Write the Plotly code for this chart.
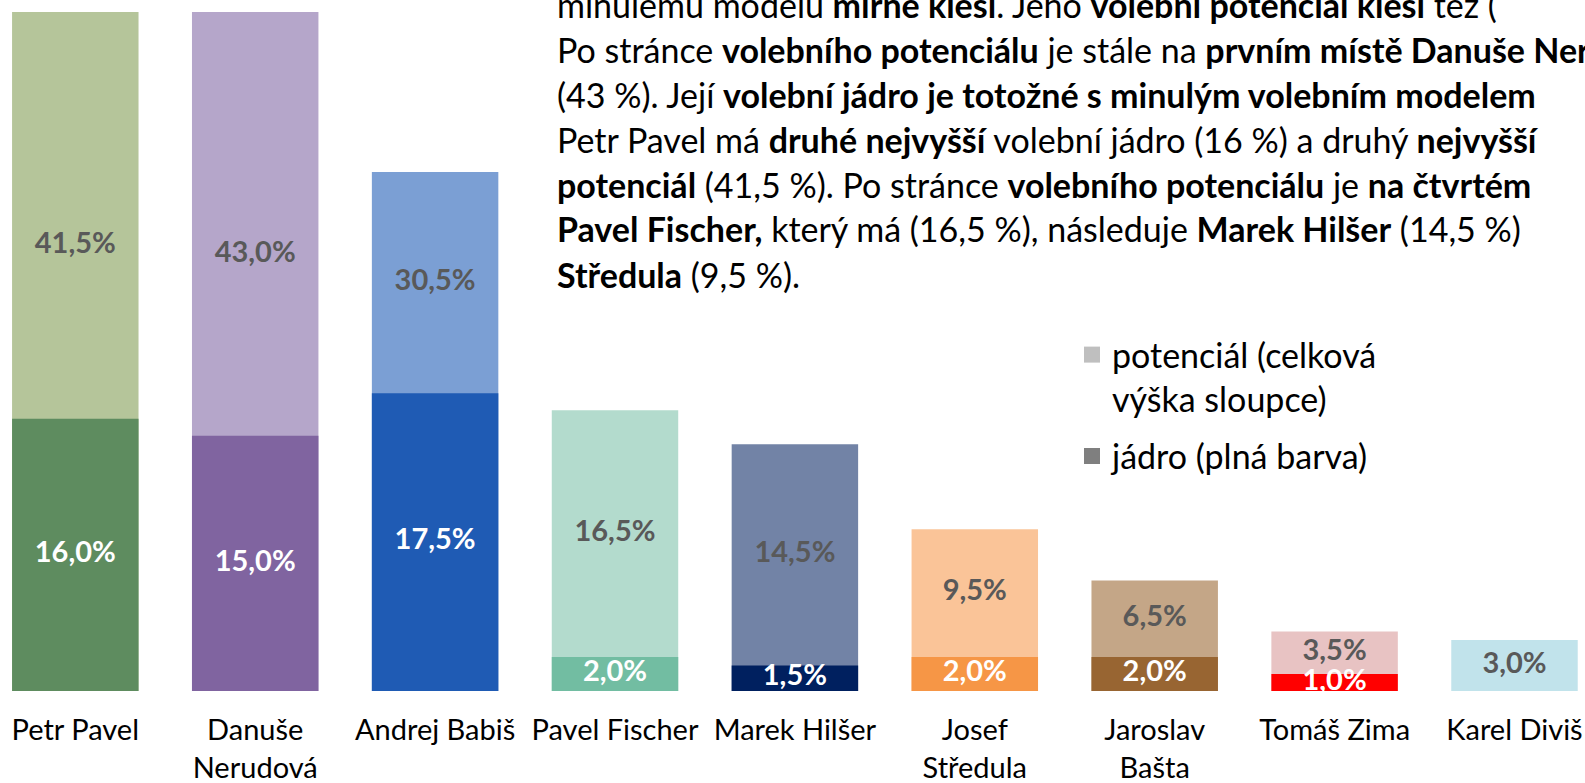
import plotly.graph_objects as go

candidates = ["Petr Pavel", "Danuše<br>Nerudová", "Andrej Babiš", "Pavel Fischer", "Marek Hilšer",
              "Josef<br>Středula", "Jaroslav<br>Bašta", "Tomáš Zima", "Karel Diviš"]
potential = [41.5, 43.0, 30.5, 16.5, 14.5, 9.5, 6.5, 3.5, 3.0]
core = [16.0, 15.0, 17.5, 2.0, 1.5, 2.0, 2.0, 1.0, 0.0]

pot_colors = ["#b5c59a", "#b5a6ca", "#7b9fd4", "#b3dbcd", "#7283a6", "#fac498", "#c4a687", "#e8c3c3", "#c1e3eb"]
core_colors = ["#5e8c5f", "#8064a0", "#1f5bb4", "#72bda2", "#00205f", "#f69646", "#986532", "#ff0000", "#c1e3eb"]

text_lines = [
    "minulému modelu <b>mírně klesl</b>. Jeho <b>volební potenciál klesl</b> též (",
    "Po stránce <b>volebního potenciálu</b> je stále na <b>prvním místě Danuše Nerudová</b>",
    "(43 %). Její <b>volební jádro je totožné s minulým volebním modelem</b>",
    "Petr Pavel má <b>druhé nejvyšší</b> volební jádro (16 %) a druhý <b>nejvyšší</b>",
    "<b>potenciál</b> (41,5 %). Po stránce <b>volebního potenciálu</b> je <b>na čtvrtém</b>",
    "<b>Pavel Fischer,</b> který má (16,5 %), následuje <b>Marek Hilšer</b> (14,5 %)",
    "<b>Středula</b> (9,5 %).",
]

legend_names = ["potenciál (celková<br>výška sloupce)", "jádro (plná barva)"]
legend_colors = ["#bfbfbf", "#7f7f7f"]

FONT = "Lato, Carlito, sans-serif"


def fmt(v):
    return f"{v:.1f}%".replace(".", ",")


W, H = 1585, 783
T, B = 12, 92
YMAX = 39.9
LABEL_TOP = 36.3  # visible-top used for centring the potential labels

fig = go.Figure()
# potential (full column height, light colour)
fig.add_trace(go.Bar(
    x=candidates, y=potential, marker=dict(color=pot_colors, line=dict(width=0)),
    showlegend=False, hoverinfo="skip",
))
# core (solid colour) drawn over the bottom part
fig.add_trace(go.Bar(
    x=candidates, y=core, marker=dict(color=core_colors, line=dict(width=0)),
    showlegend=False, hoverinfo="skip",
))
# potential labels
fig.add_trace(go.Scatter(
    x=candidates, y=[(c + min(p, LABEL_TOP)) / 2 for p, c in zip(potential, core)],
    mode="text", text=[fmt(v) for v in potential], textposition="middle center",
    textfont=dict(family=FONT, size=29, color="#595959", weight="bold"),
    showlegend=False, hoverinfo="skip", cliponaxis=False,
))
# core labels
fig.add_trace(go.Scatter(
    x=candidates, y=[c / 2 for c in core], mode="text",
    text=[fmt(c) if c > 0 else "" for c in core], textposition="middle center",
    textfont=dict(family=FONT, size=29, color="white", weight="bold"),
    showlegend=False, hoverinfo="skip", cliponaxis=False,
))
for i, (name, col) in enumerate(zip(legend_names, legend_colors)):
    fig.add_trace(go.Scatter(x=[None], y=[None], name=name, mode="markers",
                             marker=dict(symbol="square", size=16, color=col),
                             legendgroup=f"g{i}", showlegend=True))

ph = H - T - B
for i, line in enumerate(text_lines):
    ypx = 4 + 45 * i
    fig.add_annotation(
        text=line, xref="paper", yref="paper", x=555 / W, y=(H - B - ypx) / ph,
        xanchor="left", yanchor="middle", showarrow=False, align="left",
        font=dict(family=FONT, size=34, color="#000000"),
    )

fig.update_layout(
    width=W, height=H, barmode="overlay", bargap=0.297,
    margin=dict(l=0, r=0, t=T, b=B, pad=0),
    paper_bgcolor="white", plot_bgcolor="white",
    font=dict(family=FONT, color="#000000"),
    xaxis=dict(range=[-75.3 / 179.9, (W - 75.3) / 179.9], showgrid=False, zeroline=False,
               showline=False, ticks="outside", ticklen=13, tickcolor="rgba(0,0,0,0)",
               automargin=False,
               tickfont=dict(family=FONT, size=29, color="#000000")),
    yaxis=dict(range=[0, YMAX], visible=False, showgrid=False, zeroline=False, automargin=False),
    legend=dict(x=1072 / W, xanchor="left", y=(H - B - 326) / ph, yanchor="top",
                font=dict(family=FONT, size=34, color="#000000"), valign="top",
                bgcolor="rgba(0,0,0,0)", traceorder="grouped", tracegroupgap=10,
                itemwidth=30, itemsizing="trace"),
)

fig.write_html("out.html", config={"displayModeBar": False},
               post_script="document.body.style.margin='0';")
